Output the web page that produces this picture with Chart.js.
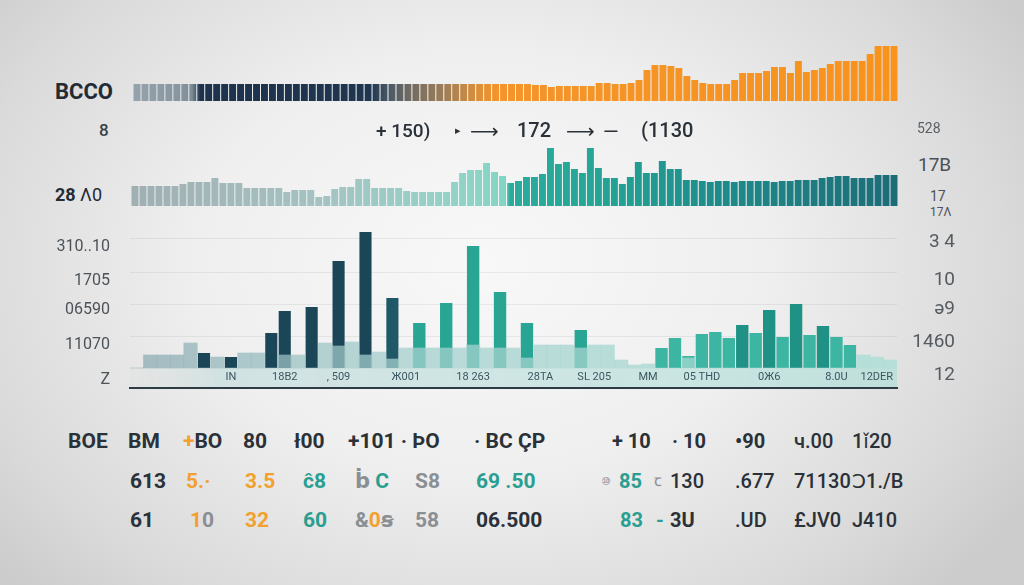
<!DOCTYPE html>
<html>
<head>
<meta charset="utf-8">
<script src="https://cdn.jsdelivr.net/npm/chart.js@4.4.1/dist/chart.umd.min.js"></script>
<style>
  html, body { margin: 0; padding: 0; }
  body {
    width: 1024px; height: 585px; overflow: hidden; position: relative;
    background: radial-gradient(ellipse 62% 80% at 47% 45%, #f8f8f8 0%, #efefef 45%, #dadada 82%, #cccccc 100%);
    font-family: Roboto, "DejaVu Sans", sans-serif;
  }
  .box { position: absolute; }
  .t { position: absolute; white-space: nowrap; line-height: 1; transform: translateY(-50%); color: #2a3138; }
  .row { font-size: 21px; }
  .rr { font-size: 20px; }
  .b { font-weight: 700; }
  .m { font-weight: 500; }
  .or { color: #f2a02e; }
  .tl { color: #2a9e90; }
  .gr { color: #8a8f94; }
</style>
</head>
<body>

<div class="box" style="left:133px;top:40px;width:765px;height:61px"><canvas id="topStrip"></canvas></div>
<div class="box" style="left:131px;top:140px;width:767px;height:66px"><canvas id="midStrip"></canvas></div>
<div class="box" style="left:0;top:220px;width:955px;height:180px"><canvas id="mainChart"></canvas></div>

<!-- strip labels -->
<span class="t b" style="left:55px;top:92px;font-size:22px;color:#232b35">BCCO</span>
<span class="t m" style="left:99px;top:130px;font-size:17px;color:#394047">8</span>
<span class="t m" style="left:376px;top:130px;font-size:19px">+ 150)</span>
<span class="t" style="left:455px;top:130px;font-size:11px">▸</span>
<span class="t" style="left:470px;top:131px;font-size:20px">⟶</span>
<span class="t m" style="left:517px;top:130px;font-size:20px">172</span>
<span class="t" style="left:566px;top:131px;font-size:20px">⟶</span>
<span class="t" style="left:603px;top:132px;font-size:20px">—</span>
<span class="t m" style="left:641px;top:130px;font-size:20px">(1130</span>
<span class="t" style="left:917px;top:128px;font-size:14px;color:#5b6167">528</span>

<span class="t" style="left:55px;top:195px;font-size:18px;color:#232b35"><b>28</b> Λ0</span>
<span class="t" style="left:918px;top:164px;font-size:19px;color:#4b5157">17B</span>
<span class="t" style="left:930px;top:196px;font-size:14px;color:#4b5157">17</span>
<span class="t" style="left:930px;top:212px;font-size:12px;color:#4b5157">17Λ</span>

<!-- table rows -->
<span class="t row b" style="left:68px;top:441px">BOE</span>
<span class="t row b" style="left:128px;top:441px">BM</span>
<span class="t row b" style="left:183px;top:441px"><span class="or">+</span>BO</span>
<span class="t row b" style="left:243px;top:441px">80</span>
<span class="t row b" style="left:294px;top:441px">ł00</span>
<span class="t row b" style="left:348px;top:441px">+101 · ÞO</span>
<span class="t row b" style="left:474px;top:441px">· BC ÇP</span>
<span class="t rr b" style="left:612px;top:441px">+ 10</span>
<span class="t rr b" style="left:672px;top:441px">· 10</span>
<span class="t rr b" style="left:735px;top:441px">•90</span>
<span class="t rr m" style="left:794px;top:441px">ч.00</span>
<span class="t rr m" style="left:852px;top:441px">1ǐ20</span>

<span class="t row b" style="left:130px;top:481px">613</span>
<span class="t row b or" style="left:186px;top:481px">5.·</span>
<span class="t row b or" style="left:245px;top:481px">3.5</span>
<span class="t row b tl" style="left:303px;top:481px">ĉ8</span>
<span class="t row b" style="left:355px;top:481px"><span class="gr">ḃ</span> <span class="tl">C</span></span>
<span class="t row b gr" style="left:415px;top:481px">S8</span>
<span class="t row b tl" style="left:476px;top:481px">69 .50</span>
<span class="t gr" style="left:601px;top:481px;font-size:11px">⑩</span>
<span class="t rr b tl" style="left:619px;top:481px">85</span>
<span class="t gr" style="left:654px;top:481px;font-size:16px">ꞇ</span>
<span class="t rr m" style="left:670px;top:481px">130</span>
<span class="t rr m" style="left:735px;top:481px">.677</span>
<span class="t rr m" style="left:794px;top:481px">71130</span>
<span class="t rr m" style="left:852px;top:481px">Ɔ1./B</span>

<span class="t row b" style="left:130px;top:520px">61</span>
<span class="t row b" style="left:190px;top:520px"><span class="or">1</span><span class="gr">0</span></span>
<span class="t row b or" style="left:245px;top:520px">32</span>
<span class="t row b tl" style="left:303px;top:520px">60</span>
<span class="t row b" style="left:355px;top:520px"><span class="gr">&amp;</span><span class="or">0</span><span class="gr">ꞩ</span></span>
<span class="t row b gr" style="left:415px;top:520px">58</span>
<span class="t row b" style="left:476px;top:520px">06.500</span>
<span class="t rr b tl" style="left:620px;top:520px">83</span>
<span class="t rr b tl" style="left:656px;top:520px">-</span>
<span class="t rr b" style="left:670px;top:520px">3U</span>
<span class="t rr m" style="left:735px;top:520px">.UD</span>
<span class="t rr m" style="left:794px;top:520px">£JV0</span>
<span class="t rr m" style="left:852px;top:520px">J410</span>

<script>
// top strip (gray -> navy -> orange)
const topStrip = [
  17, 17, 17, 17, 17, 17, 17, 17, 17, 17, 17, 17, 17, 17, 17, 17,
  17, 17, 17, 17, 17, 17, 17, 17, 17, 17, 17, 17, 17, 17, 17, 17,
  17, 17, 17, 17, 17, 17, 17, 17, 17, 17, 17, 17, 17, 17, 17, 17,
  17, 17, 16, 16, 14, 15, 15, 15, 15, 15, 18, 18, 17, 17, 18, 21,
  31, 36, 36, 35, 33, 25, 21, 18, 17, 17, 17, 21, 28, 28, 28, 30,
  34, 34, 28, 40, 29, 31, 33, 37, 40, 40, 40, 40, 47, 55, 55, 55
];

// second strip (teal)
const midStrip = [
  20, 20, 20, 20, 20, 20, 22, 24, 24, 24, 28, 23, 23, 23, 18, 18,
  18, 18, 18, 14, 16, 16, 16, 9, 10, 17, 19, 19, 27, 27, 18, 18,
  18, 18, 15, 14, 14, 14, 14, 14, 24, 33, 36, 36, 43, 34, 30, 23,
  25, 29, 29, 32, 58, 42, 44, 37, 33, 58, 38, 28, 28, 22, 29, 44,
  33, 33, 45, 37, 37, 26, 26, 25, 24, 25, 25, 24, 25, 25, 25, 25,
  24, 25, 25, 26, 26, 26, 28, 29, 30, 30, 28, 28, 28, 31, 31, 31
];

// main chart
const mainLabels = [
  '', '', '', '', '', '', '', 'IN', '', '', '', '18B2', '', '', '', ', 509',
  '', '', '', '', 'Ж001', '', '', '', '', '18 263', '', '', '', '', '28TA',
  '', '', '', 'SL 205', '', '', '', 'MM', '', '', '', '05 THD', '', '', '', '',
  '0Ж6', '', '', '', '', '8.0U', '', '', '12DER', ''
];
const mainLight = [
  0, 13, 13, 13, 25, 0, 11, 0, 15, 15,
  0, 13, 13, 0, 25, 22, 26, 13, 16, 9,
  20, 20, 20, 20, 20, 23, 20, 20, 20, 10,
  23, 23, 23, 20, 23, 23, 8, 3, 4, 0,
  0, 10, 0, 0, 0, 0, 0, 0, 0, 0,
  0, 0, 0, 0, 13, 11, 8
];
const mainNavy = [
  0, 0, 0, 0, 0, 15, 0, 11, 0, 0,
  35, 57, 0, 61, 0, 107, 0, 136, 0, 70,
  0, 0, 0, 0, 0, 0, 0, 0, 0, 0,
  0, 0, 0, 0, 0, 0, 0, 0, 0, 0,
  0, 0, 0, 0, 0, 0, 0, 0, 0, 0,
  0, 0, 0, 0, 0, 0, 0
];
const mainTeal = [
  0, 0, 0, 0, 0, 0, 0, 0, 0, 0,
  0, 0, 0, 0, 0, 0, 0, 0, 0, 0,
  0, 45, 0, 65, 0, 122, 0, 76, 0, 45,
  0, 0, 0, 38, 0, 0, 0, 0, 0, 20,
  30, 12, 34, 36, 30, 43, 35, 58, 31, 64,
  33, 42, 31, 23, 0, 0, 0
];
const gridValues = [32, 64, 96, 129];
const leftTickValues = [121, 87, 58, 23, -12];
const leftLabels = ['310..10', '1705', '06590', '11070', 'Z'];
const rightTickValues = [126, 88, 59, 26, -7];
const rightLabels = ['3 4', '10', 'ə9', '1460', '12'];

function xGradient(chart, stops) {
  const area = chart.chartArea;
  if (!area) return stops[0][1];
  const g = chart.ctx.createLinearGradient(area.left, 0, area.right, 0);
  stops.forEach(s => g.addColorStop(s[0], s[1]));
  return g;
}

const topStops = [
  [0, '#95a3ad'], [0.06, '#8796a0'], [0.077, '#7d8c96'], [0.088, '#1d324d'],
  [0.31, '#1f3650'], [0.335, '#4a5966'], [0.36, '#6f6a62'], [0.41, '#a27f55'],
  [0.45, '#dc8f38'], [0.475, '#f4942a'], [1, '#f8931c']
];
const midStops = [
  [0, '#a0afb2'], [0.25, '#a4c3c2'], [0.42, '#93d3c7'], [0.488, '#82d5c5'],
  [0.494, '#2bab9b'], [0.6, '#25a696'], [0.75, '#1f8e8c'], [1, '#1c6c78']
];

function stripChart(id, values, stops, max) {
  new Chart(document.getElementById(id), {
    type: 'bar',
    data: {
      labels: values.map((v, i) => i),
      datasets: [{
        data: values,
        backgroundColor: ctx => xGradient(ctx.chart, stops),
        borderWidth: 0,
        barPercentage: 0.87,
        categoryPercentage: 1
      }]
    },
    options: {
      animation: false,
      responsive: true,
      maintainAspectRatio: false,
      layout: { padding: 0 },
      plugins: { legend: { display: false }, tooltip: { enabled: false } },
      scales: {
        x: { display: false },
        y: { display: false, min: 0, max: max }
      }
    }
  });
}

stripChart('topStrip', topStrip, topStops, 61);
stripChart('midStrip', midStrip, midStops, 66);

// light band behind the x labels
const bandPlugin = {
  id: 'band',
  beforeDraw(chart) {
    const { ctx, chartArea, scales } = chart;
    const y0 = scales.y.getPixelForValue(0);
    const g = ctx.createLinearGradient(chartArea.left, 0, chartArea.right, 0);
    g.addColorStop(0, 'rgba(205,210,210,0.1)');
    g.addColorStop(0.12, 'rgba(180,214,213,0.5)');
    g.addColorStop(1, 'rgba(168,222,214,0.6)');
    ctx.save();
    ctx.fillStyle = g;
    ctx.fillRect(chartArea.left, y0, chartArea.right - chartArea.left, chartArea.bottom - y0);
    ctx.restore();
  }
};

const lightStops = [
  [0, 'rgba(140,170,178,0.75)'], [0.35, 'rgba(165,208,206,0.75)'], [1, 'rgba(165,222,212,0.75)']
];

function noPad(s) {
  s.paddingTop = 0;
  s.paddingBottom = 0;
}

new Chart(document.getElementById('mainChart'), {
  type: 'bar',
  data: {
    labels: mainLabels,
    datasets: [
      {
        label: 'light',
        data: mainLight,
        backgroundColor: ctx => xGradient(ctx.chart, lightStops),
        borderWidth: 0,
        barPercentage: 1,
        categoryPercentage: 1,
        grouped: false
      },
      {
        label: 'navy',
        data: mainNavy,
        backgroundColor: ctx => ctx.index >= 19 ? '#1f5866' : '#1b4658',
        borderWidth: 0,
        barPercentage: 0.9,
        categoryPercentage: 1,
        grouped: false
      },
      {
        label: 'teal',
        data: mainTeal,
        backgroundColor: ctx => ctx.index < 36 ? '#29a594' : (ctx.raw >= 40 ? '#1f9185' : '#3cb5a3'),
        borderWidth: 0,
        barPercentage: 0.92,
        categoryPercentage: 1,
        grouped: false
      }
    ]
  },
  options: {
    animation: false,
    responsive: true,
    maintainAspectRatio: false,
    layout: { padding: { top: 8, left: 0, right: 0, bottom: 0 } },
    plugins: { legend: { display: false }, tooltip: { enabled: false } },
    scales: {
      x: {
        z: 1,
        grid: { display: false },
        border: { display: true, color: '#2d3c44', width: 2 },
        ticks: {
          mirror: true, autoSkip: false, maxRotation: 0, minRotation: 0, padding: 4,
          color: '#3b5660', font: { family: 'Roboto', size: 11 }
        },
        afterFit: s => { s.height = 12; s.paddingLeft = 0; s.paddingRight = 0; }
      },
      y: {
        position: 'left',
        min: -20, max: 140,
        grid: { display: false },
        border: { display: false },
        afterBuildTicks: s => { s.ticks = leftTickValues.map(v => ({ value: v })); },
        ticks: {
          padding: 12,
          color: '#4b5359',
          font: { family: 'Roboto', size: 16 },
          callback: (v, i) => leftLabels[i]
        },
        afterFit: s => { s.width = 130; noPad(s); }
      },
      yg: {
        position: 'left',
        min: -20, max: 140,
        grid: { color: 'rgba(0,0,0,0.06)', drawTicks: false },
        border: { display: false },
        afterBuildTicks: s => { s.ticks = gridValues.map(v => ({ value: v })); },
        ticks: { display: false },
        afterFit: s => { s.width = 0; noPad(s); }
      },
      y2: {
        position: 'right',
        min: -20, max: 140,
        grid: { display: false },
        border: { display: false },
        afterBuildTicks: s => { s.ticks = rightTickValues.map(v => ({ value: v })); },
        ticks: {
          padding: 15,
          crossAlign: 'far',
          color: '#555b60',
          font: { family: 'Roboto', size: 19 },
          callback: (v, i) => rightLabels[i]
        },
        afterFit: s => { s.width = 58; noPad(s); }
      }
    }
  },
  plugins: [bandPlugin]
});
</script>
</body>
</html>
